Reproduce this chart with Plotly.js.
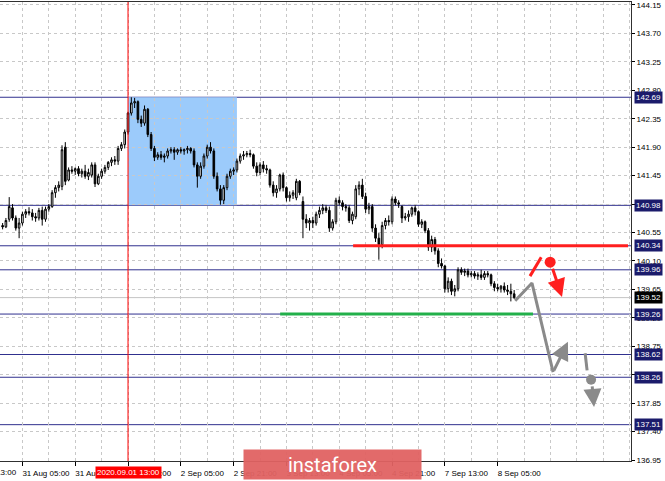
<!DOCTYPE html>
<html>
<head>
<meta charset="utf-8">
<script src="https://cdn.plot.ly/plotly-3.0.1.min.js"></script>
<style>
  html, body { margin: 0; padding: 0; background: #ffffff; }
  #chart { width: 665px; height: 481px; }
</style>
</head>
<body>
<div id="chart"></div>
<script>
// EUR/JPY, H1 candles, 31 Aug - 8 Sep 2020
const barOpen = [
  140.66,140.64,140.76,140.94,140.78,140.62,140.70,140.84,140.88,140.86,
  140.80,140.78,140.90,140.76,140.92,140.96,141.18,141.26,141.28,141.90,
  141.38,141.54,141.52,141.56,141.48,141.52,141.44,141.46,141.62,141.32,
  141.44,141.52,141.58,141.66,141.70,141.68,141.88,141.94,142.14,142.44,
  142.60,142.62,142.34,142.28,142.50,142.10,141.88,141.74,141.78,141.74,
  141.76,141.84,141.86,141.82,141.86,141.84,141.86,141.88,141.84,141.62,
  141.44,141.60,141.76,141.90,141.84,141.44,141.24,141.06,141.26,141.44,
  141.52,141.54,141.68,141.76,141.78,141.80,141.78,141.60,141.50,141.62,
  141.56,141.54,141.30,141.18,141.24,141.46,141.26,141.10,141.14,141.10,
  141.36,141.04,140.76,140.70,140.74,140.70,140.84,140.90,140.94,140.90,
  140.62,140.72,141.06,141.02,140.96,140.94,140.74,140.80,141.24,141.30,
  141.12,140.92,140.96,140.62,140.46,140.36,140.66,140.74,140.72,141.08,
  141.02,140.96,140.78,140.80,140.84,140.94,140.88,140.68,140.72,140.58,
  140.32,140.44,140.26,140.06,140.02,139.66,139.78,139.62,139.66,139.96,
  139.92,139.94,139.88,139.90,139.86,139.88,139.84,139.90,139.88,139.74,
  139.68,139.66,139.70,139.64,139.62,139.58
];
const barHigh = [
  140.70,140.78,141.11,141.00,140.82,140.78,140.88,140.92,140.95,140.92,
  140.86,140.94,140.96,140.96,141.00,141.22,141.30,141.36,141.93,141.98,
  141.58,141.60,141.58,141.60,141.56,141.62,141.56,141.66,141.66,141.48,
  141.56,141.62,141.68,141.74,141.76,141.92,141.98,142.18,142.46,142.69,
  142.68,142.64,142.40,142.56,142.52,142.14,141.92,141.82,141.84,141.80,
  141.88,141.90,141.90,141.88,141.90,141.88,141.92,141.90,141.88,141.66,
  141.66,141.80,141.94,141.98,141.88,141.50,141.30,141.30,141.48,141.56,
  141.58,141.72,141.80,141.84,141.84,141.86,141.80,141.66,141.66,141.68,
  141.62,141.56,141.36,141.30,141.48,141.50,141.28,141.20,141.22,141.40,
  141.38,141.12,140.84,140.78,140.80,140.88,140.96,141.00,140.98,140.96,
  140.76,141.10,141.12,141.06,141.00,140.98,140.88,141.30,141.36,141.40,
  141.18,141.02,141.00,140.68,140.54,140.72,140.78,140.82,141.12,141.12,
  141.06,140.98,140.86,140.90,140.96,140.98,140.90,140.76,140.74,140.62,
  140.50,140.48,140.30,140.14,140.04,139.84,139.82,139.72,140.00,140.00,
  139.98,139.98,139.94,139.94,139.92,139.96,139.94,139.94,139.90,139.78,
  139.74,139.72,139.76,139.72,139.74,139.64
];
const barLow = [
  140.60,140.62,140.72,140.74,140.58,140.46,140.66,140.78,140.82,140.74,
  140.72,140.74,140.66,140.72,140.88,140.94,141.10,141.20,141.22,141.30,
  141.36,141.48,141.46,141.44,141.42,141.40,141.38,141.42,141.27,141.30,
  141.40,141.48,141.54,141.60,141.62,141.62,141.84,141.88,142.10,142.40,
  142.52,142.28,142.22,142.24,142.06,141.84,141.68,141.70,141.70,141.66,
  141.72,141.80,141.70,141.78,141.80,141.78,141.80,141.80,141.58,141.26,
  141.40,141.56,141.72,141.80,141.40,141.20,140.99,141.00,141.22,141.40,
  141.46,141.50,141.64,141.70,141.74,141.74,141.56,141.44,141.46,141.50,
  141.48,141.26,141.12,141.10,141.20,141.20,141.04,141.04,141.08,141.06,
  141.14,140.46,140.62,140.58,140.62,140.66,140.78,140.84,140.86,140.56,
  140.58,140.68,140.98,140.90,140.88,140.70,140.68,140.76,141.14,141.08,
  140.86,140.84,140.56,140.40,140.12,140.30,140.60,140.66,140.68,140.98,
  140.94,140.70,140.74,140.72,140.80,140.82,140.64,140.62,140.54,140.26,
  140.24,140.20,140.00,139.98,139.60,139.60,139.56,139.54,139.62,139.88,
  139.86,139.84,139.84,139.82,139.80,139.80,139.80,139.84,139.70,139.62,
  139.62,139.60,139.60,139.56,139.46,139.50
];
const barClose = [
  140.64,140.74,140.96,140.78,140.62,140.70,140.84,140.88,140.86,140.80,
  140.78,140.90,140.76,140.92,140.96,141.18,141.26,141.30,141.86,141.36,
  141.54,141.52,141.56,141.48,141.52,141.44,141.50,141.62,141.32,141.44,
  141.52,141.58,141.66,141.70,141.68,141.88,141.94,142.14,142.44,142.60,
  142.62,142.34,142.28,142.50,142.10,141.88,141.74,141.78,141.74,141.76,
  141.84,141.86,141.82,141.86,141.84,141.86,141.88,141.84,141.62,141.44,
  141.60,141.76,141.90,141.84,141.44,141.24,141.06,141.26,141.44,141.52,
  141.54,141.68,141.76,141.78,141.80,141.78,141.60,141.50,141.62,141.56,
  141.54,141.30,141.18,141.24,141.46,141.26,141.10,141.14,141.18,141.36,
  141.18,140.76,140.70,140.74,140.70,140.84,140.90,140.94,140.90,140.62,
  140.72,141.06,141.02,140.96,140.94,140.74,140.84,141.24,141.30,141.12,
  140.92,140.96,140.62,140.46,140.36,140.66,140.74,140.72,141.08,141.02,
  141.00,140.78,140.80,140.84,140.94,140.88,140.68,140.72,140.58,140.32,
  140.44,140.26,140.06,140.02,139.66,139.78,139.62,139.66,139.96,139.92,
  139.94,139.88,139.90,139.86,139.88,139.84,139.90,139.88,139.74,139.68,
  139.66,139.70,139.64,139.62,139.58,139.52
];

// time-axis labels (one every 16 hourly bars)
const tickBars   = [6, 22, 38, 54, 70, 86, 102, 118, 134, 150];
const tickLabels = ['31 Aug 05:00','31 Aug 21:00','1 Sep 13:00','2 Sep 05:00','2 Sep 21:00',
                    '3 Sep 13:00','4 Sep 05:00','4 Sep 21:00','7 Sep 13:00','8 Sep 05:00'];
// the label of the tick just before the visible window is only partly in view
const prevTickBar = -10;
const prevTickLabel = '28 Aug 13:00';
const priceTicks = [136.95,137.40,137.85,138.30,138.75,139.20,139.65,140.10,140.55,
                    141.00,141.45,141.90,142.35,142.80,143.25,143.70,144.15];

// horizontal support / resistance levels
const levels = [142.69, 140.98, 140.34, 139.96, 139.26, 138.62, 138.26, 137.51];
const lastPrice = 139.52;
const markedBar = 38;                 // 2020.09.01 13:00
const markedLabel = '2020.09.01 13:00';
const rangeBox = {fromBar: 38, toBar: 71, low: 140.98, high: 142.69};
const sellLevel = {price: 140.34, fromBar: 106.2, toBar: 189.5};
const buyLevel  = {price: 139.26, fromBar: 84.1, toBar: 160.7};

// scenario sketches
const mainPathX = [155.3, 160.4, 166.8];
const mainPathY = [139.47, 139.75, 138.34];
const mainArrow = {x0: 166.8, y0: 138.34, x1: 171.3, y1: 138.82};
const altDashX = [176.5, 177.1];
const altDashY = [138.64, 138.37];
const altDot = {x: 178.3, y: 138.22};
const altArrow = {x0: 178.6, y0: 138.14, x1: 179.2, y1: 137.79};
const sellStrokeX = [159.8, 163.2];
const sellStrokeY = [139.86, 140.16];
const sellDot = {x: 165.9, y: 140.08};
const sellArrow = {x0: 166.5, y0: 140.00, x1: 169.5, y1: 139.53};

const barIndex = barClose.map((_, i) => i);
const xRange = [-0.79, 190.4];

const GRAY = '#8a8a8a';
const RED = '#ff1f1f';
const NAVY_LINE = '#30308e';
const NAVY_BOX = '#1b1b6b';
const FONT = 'Liberation Sans, Arial, sans-serif';

const traces = [
  {
    type: 'candlestick',
    x: barIndex, open: barOpen, high: barHigh, low: barLow, close: barClose,
    increasing: {line: {color: '#000000', width: 1}, fillcolor: '#ffffff'},
    decreasing: {line: {color: '#000000', width: 1}, fillcolor: '#000000'},
    whiskerwidth: 0,
    hoverinfo: 'skip',
    showlegend: false
  },
  { type: 'scatter', mode: 'lines', x: mainPathX, y: mainPathY,
    line: {color: GRAY, width: 3}, hoverinfo: 'skip', showlegend: false },
  { type: 'scatter', mode: 'lines', x: altDashX, y: altDashY,
    line: {color: GRAY, width: 3}, hoverinfo: 'skip', showlegend: false },
  { type: 'scatter', mode: 'markers', x: [altDot.x], y: [altDot.y],
    marker: {color: GRAY, size: 10}, hoverinfo: 'skip', showlegend: false },
  { type: 'scatter', mode: 'lines', x: sellStrokeX, y: sellStrokeY,
    line: {color: RED, width: 3}, hoverinfo: 'skip', showlegend: false },
  { type: 'scatter', mode: 'markers', x: [sellDot.x], y: [sellDot.y],
    marker: {color: RED, size: 11}, hoverinfo: 'skip', showlegend: false }
];

const shapes = [
  { type: 'rect', xref: 'x', yref: 'y', layer: 'below',
    x0: rangeBox.fromBar, x1: rangeBox.toBar, y0: rangeBox.low, y1: rangeBox.high,
    fillcolor: '#9ccbfb', line: {width: 0} },
  { type: 'line', xref: 'paper', yref: 'y', layer: 'below', x0: 0, x1: 1,
    y0: lastPrice, y1: lastPrice, line: {color: '#c4c4c4', width: 1} }
];
levels.forEach(p => shapes.push({
  type: 'line', xref: 'paper', yref: 'y', layer: 'below', x0: 0, x1: 1,
  y0: p, y1: p, line: {color: NAVY_LINE, width: 1}
}));
shapes.push(
  { type: 'line', xref: 'x', yref: 'paper', layer: 'above',
    x0: markedBar, x1: markedBar, y0: 0, y1: 1, line: {color: '#ff0000', width: 1} },
  { type: 'line', xref: 'x', yref: 'y', layer: 'above',
    x0: sellLevel.fromBar, x1: sellLevel.toBar, y0: sellLevel.price, y1: sellLevel.price,
    line: {color: RED, width: 3} },
  { type: 'line', xref: 'x', yref: 'y', layer: 'above',
    x0: buyLevel.fromBar, x1: buyLevel.toBar, y0: buyLevel.price, y1: buyLevel.price,
    line: {color: '#22b04a', width: 3} }
);

const annotations = [];
levels.forEach(p => annotations.push({
  xref: 'paper', yref: 'y', x: 1, y: p, xanchor: 'left', yanchor: 'middle', xshift: 3,
  text: p.toFixed(2), showarrow: false, bgcolor: NAVY_BOX, borderpad: 1,
  font: {family: FONT, size: 8, color: '#ffffff'}
}));
annotations.push({
  xref: 'paper', yref: 'y', x: 1, y: lastPrice, xanchor: 'left', yanchor: 'middle', xshift: 3,
  text: lastPrice.toFixed(2), showarrow: false, bgcolor: '#000000', borderpad: 1,
  font: {family: FONT, size: 8, color: '#ffffff'}
});
// arrows of the scenario sketches
[[mainArrow, GRAY], [altArrow, GRAY], [sellArrow, RED]].forEach(([a, c]) => annotations.push({
  xref: 'x', yref: 'y', axref: 'x', ayref: 'y',
  x: a.x1, y: a.y1, ax: a.x0, ay: a.y0, text: '', showarrow: true,
  arrowhead: 2, arrowsize: 1.2, arrowwidth: 3, arrowcolor: c, standoff: 0, startstandoff: 0
}));
// partly visible label left of the window
annotations.push({
  xref: 'paper', yref: 'paper',
  x: (prevTickBar - xRange[0]) / (xRange[1] - xRange[0]), y: -0.024,
  xanchor: 'left', yanchor: 'middle', xshift: -3,
  text: prevTickLabel, showarrow: false,
  font: {family: FONT, size: 8, color: '#000000'}
});
// highlighted bar time on the time axis
annotations.push({
  xref: 'x', yref: 'paper', x: markedBar, y: -0.024, xanchor: 'center', yanchor: 'middle',
  text: markedLabel, showarrow: false, bgcolor: '#ff0000', borderpad: 1,
  font: {family: FONT, size: 8, color: '#ffffff'}
});
// watermark
annotations.push({
  xref: 'paper', yref: 'paper', x: 0.527, y: -0.0076, xanchor: 'center', yanchor: 'middle',
  text: 'instaforex', showarrow: false, width: 177, height: 29, borderpad: 0,
  bgcolor: 'rgba(224,98,98,0.95)',
  font: {family: 'Roboto, sans-serif', size: 20, color: '#ffffff'}
});

const layout = {
  width: 665, height: 481,
  margin: {l: 0, r: 34, t: 2, b: 20},
  paper_bgcolor: '#ffffff', plot_bgcolor: '#ffffff',
  showlegend: false,
  xaxis: {
    type: 'linear', range: xRange, rangeslider: {visible: false},
    tickmode: 'array', tickvals: tickBars, ticktext: tickLabels,
    tickangle: 0, automargin: false, ticklabeloverflow: 'allow',
    ticks: 'outside', ticklen: 4, tickcolor: '#000000',
    showgrid: true, gridcolor: '#c8c8c8', griddash: '3px,3px', gridwidth: 1,
    minor: {tick0: 6, dtick: 8, showgrid: true, gridcolor: '#c8c8c8', griddash: '3px,3px', ticklen: 0},
    showline: true, linecolor: '#303030', linewidth: 1, mirror: true,
    zeroline: false, fixedrange: true,
    tickfont: {family: FONT, size: 8, color: '#000000'}
  },
  yaxis: {
    side: 'right', range: [136.935, 144.197],
    tickmode: 'array', tickvals: priceTicks, ticktext: priceTicks.map(v => v.toFixed(2)),
    ticks: 'outside', ticklen: 3, tickcolor: '#000000',
    showgrid: true, gridcolor: '#c8c8c8', griddash: '3px,3px', gridwidth: 1,
    showline: true, linecolor: '#303030', linewidth: 1,
    zeroline: false, fixedrange: true, automargin: false,
    tickfont: {family: FONT, size: 8, color: '#000000'}
  },
  shapes: shapes,
  annotations: annotations
};

Plotly.newPlot('chart', traces, layout, {staticPlot: true, displayModeBar: false}).then(gd => {
  // time labels start at their tick, as on a trading terminal
  gd.querySelectorAll('.xtick text').forEach(t => {
    t.setAttribute('text-anchor', 'start');
  });
});
</script>
</body>
</html>
